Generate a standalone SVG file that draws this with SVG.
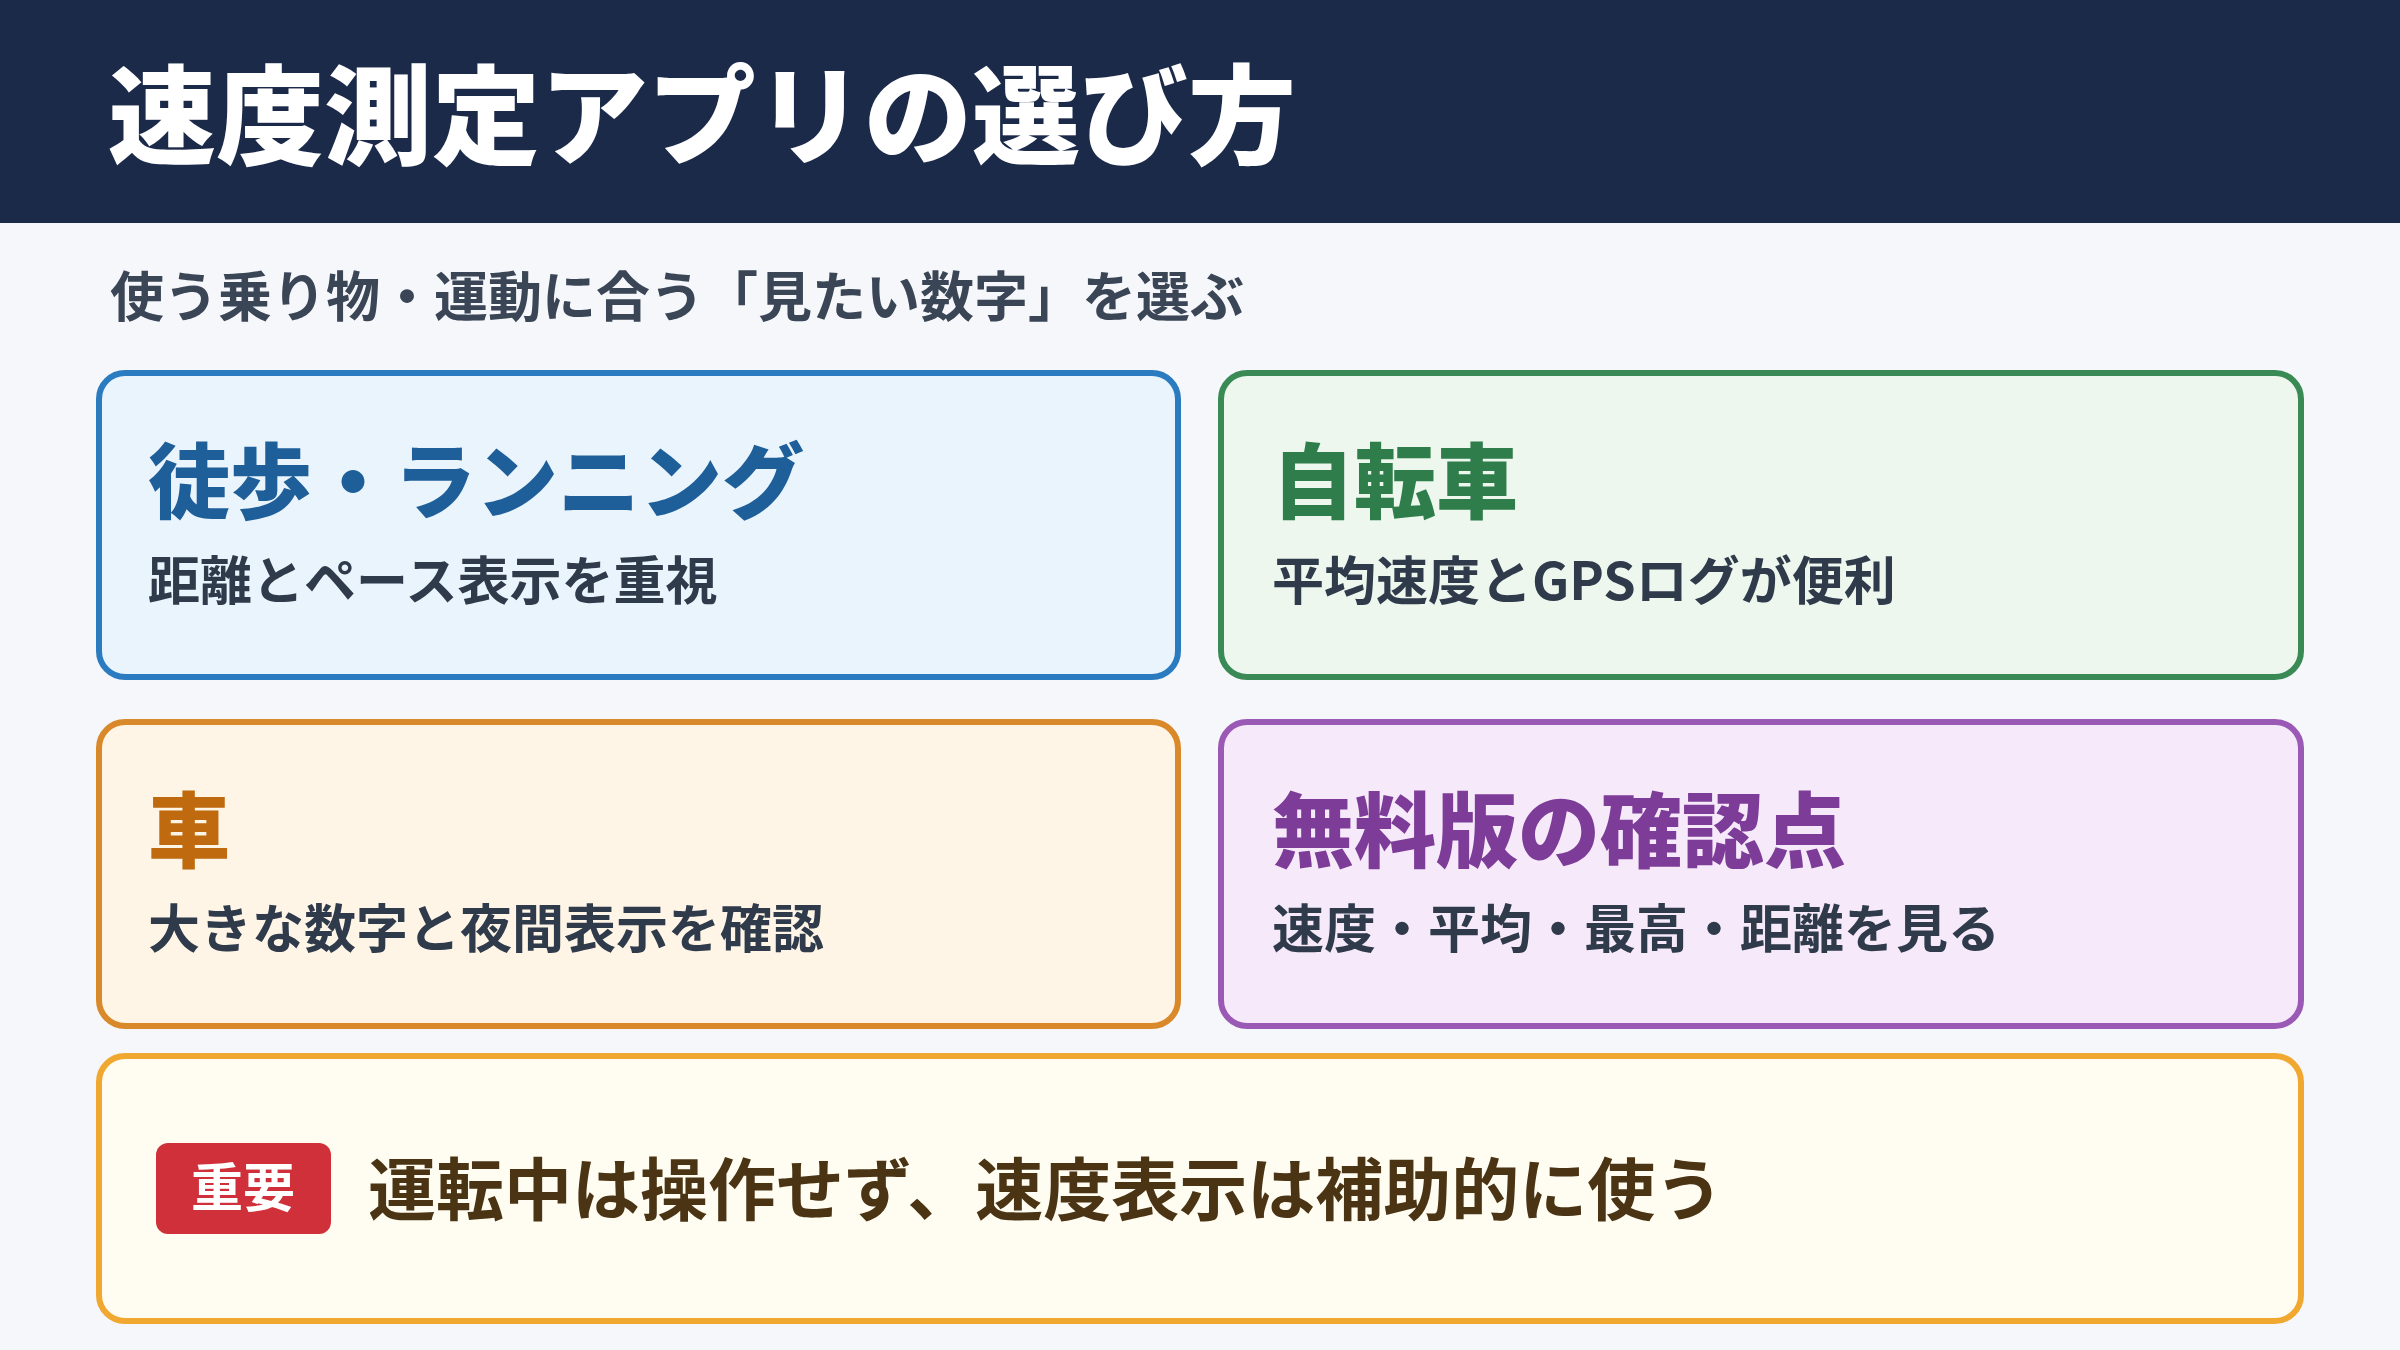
<svg xmlns="http://www.w3.org/2000/svg" width="2400" height="1350" viewBox="0 0 2400 1350">
<style>
text{font-family:"Noto Sans CJK JP","Noto Sans",sans-serif;font-weight:700}
.sub{font-size:52px;fill:#2f3a4b}
.ttl{font-size:82px;font-weight:900}
.box{stroke-width:6}
</style>
<rect width="2400" height="1350" fill="#f5f7fa"/>
<rect width="2400" height="223" fill="#1c2a4a"/>
<text x="108" y="156" font-size="108" font-weight="900" fill="#fff" style="font-weight:900">速度測定アプリの選び方</text>
<text x="110" y="317" font-size="54" fill="#3a4556">使う乗り物・運動に合う「見たい数字」を選ぶ</text>
<g id="walk"><rect class="box" x="99" y="373" width="1079" height="304" rx="26" fill="#eaf4fd" stroke="#2a7bbf"/>
<text class="ttl" x="148" y="512" fill="#1f5f99">徒歩・ランニング</text>
<text class="sub" x="148" y="600">距離とペース表示を重視</text></g>
<g id="bike"><rect class="box" x="1221" y="373" width="1080" height="304" rx="26" fill="#edf7ee" stroke="#3a8a55"/>
<text class="ttl" x="1272" y="512" fill="#2e7d4a">自転車</text>
<text class="sub" x="1272" y="600">平均速度とGPSログが便利</text></g>
<g id="car"><rect class="box" x="99" y="722" width="1079" height="304" rx="26" fill="#fef5e7" stroke="#d9892a"/>
<text class="ttl" x="148" y="861" fill="#c06a10">車</text>
<text class="sub" x="148" y="948">大きな数字と夜間表示を確認</text></g>
<g id="free"><rect class="box" x="1221" y="722" width="1080" height="304" rx="26" fill="#f6eafa" stroke="#9b59b6"/>
<text class="ttl" x="1272" y="861" fill="#7d3c98">無料版の確認点</text>
<text class="sub" x="1272" y="948">速度・平均・最高・距離を見る</text></g>
<g id="note"><rect class="box" x="99" y="1056" width="2202" height="265" rx="26" fill="#fffcf2" stroke="#f0a830"/>
<rect x="156" y="1143" width="175" height="91" rx="12" fill="#d0303a"/>
<text x="243" y="1207" font-size="52" fill="#fff" text-anchor="middle">重要</text>
<text x="368" y="1215" font-size="68" fill="#4a3414">運転中は操作せず、速度表示は補助的に使う</text></g>
<g id="connectors"/>
</svg>
